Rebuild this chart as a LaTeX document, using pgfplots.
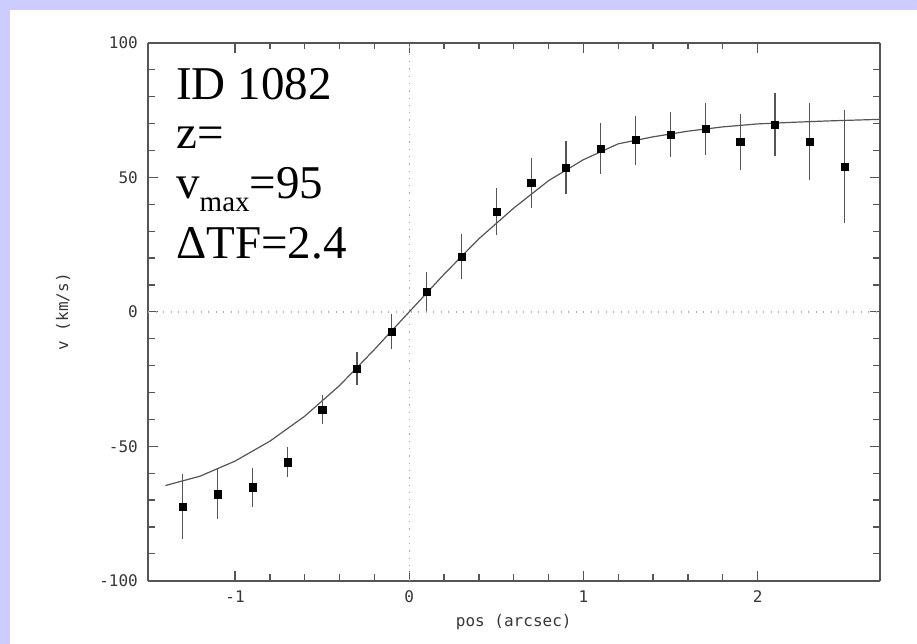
\documentclass[border=0pt]{standalone}
\usepackage{fontspec}
\setmainfont{Liberation Serif}
\newfontfamily\tickfont{DejaVu Sans Mono}
\usepackage{pgfplots}
\pgfplotsset{compat=1.18}
\definecolor{lav}{RGB}{204,204,255}
\definecolor{axgray}{RGB}{85,85,85}
\definecolor{labgray}{RGB}{55,55,55}
\definecolor{dotgray}{RGB}{170,170,170}

\pgfplotstableread{
x y
-1.4 -64.6
-1.2 -61.1
-1.0 -55.5
-0.8 -48.1
-0.6 -38.8
-0.4 -27.4
-0.2 -14.0
0 0
0.2 14.0
0.4 27.2
0.6 38.6
0.8 48.8
1.0 56.6
1.2 62.5
1.4 65.1
1.6 67.2
1.8 68.8
2.0 69.9
2.2 70.5
2.4 71.0
2.6 71.4
2.7 71.6
}\curvedata

\pgfplotstableread{
x y e
-1.3 -72.4 12.1
-1.1 -67.8 9.2
-0.9 -65.2 7.2
-0.7 -55.9 5.7
-0.5 -36.3 5.4
-0.3 -21.1 6.0
-0.1 -7.3 6.4
0.1 7.6 7.4
0.3 20.6 8.2
0.5 37.3 8.7
0.7 47.9 9.4
0.9 53.6 9.8
1.1 60.7 9.5
1.3 63.9 9.1
1.5 65.9 8.3
1.7 68.0 9.7
1.9 63.2 10.3
2.1 69.6 11.8
2.3 63.4 14.3
2.5 53.9 21.0
}\pointdata

\begin{document}
\begin{tikzpicture}[x=1pt,y=1pt]
\useasboundingbox (0,0) rectangle (917,643);
\fill[white] (-2,-2) rectangle (919,645);
\fill[lav] (-2,633) rectangle (919,645);
\fill[lav] (-2,-2) rectangle (10,645);
\begin{axis}[
  at={(148pt,62.3pt)}, anchor=south west,
  scale only axis, width=731.5pt, height=537.7pt,
  xmin=-1.5, xmax=2.7, ymin=-100, ymax=100,
  xtick={-1,0,1,2}, xticklabels={-1,0,1,2},
  ytick={-100,-50,0,50,100}, yticklabels={-100,-50,0,50,100},
  minor x tick num=4, minor y tick num=4,
  tick align=inside, tick pos=both,
  major tick length=10pt, minor tick length=6.5pt,
  separate axis lines,
  axis line style={axgray, line width=2pt},
  every tick/.style={axgray, line width=1.2pt},
  tick label style={font=\tickfont\fontsize{16}{16}\selectfont, text=labgray},
  yticklabel style={inner sep=0pt, xshift=-10pt},
  xticklabel style={inner sep=0pt, yshift=-10pt},
  xlabel={pos (arcsec)}, ylabel={v (km/s)},
  every axis x label/.style={at={(axis description cs:0.5,-0.0762)}, anchor=center, font=\tickfont\fontsize{16}{16}\selectfont, text=labgray},
  every axis y label/.style={at={(axis description cs:-0.1162,0.5)}, rotate=90, anchor=center, font=\tickfont\fontsize{16}{16}\selectfont, text=labgray},
  clip=false,
]
\draw[dotgray, line width=1.3pt, dash pattern=on 1.3pt off 6.2pt] (axis cs:-1.5,0) -- (axis cs:2.7,0);
\draw[dotgray, line width=1.3pt, dash pattern=on 1.3pt off 6pt] (axis cs:0,-100) -- (axis cs:0,100);
\addplot[axgray, line width=1.2pt, mark=none] table[x=x,y=y] {\curvedata};
\addplot[only marks, mark=square*, mark size=3.6pt, mark options={black, fill=black},
  error bars/.cd, y dir=both, y explicit, error mark=none,
  error bar style={axgray, line width=1.2pt}]
  table[x=x, y=y, y error=e] {\pointdata};
\end{axis}
\begin{scope}[every node/.style={inner sep=0pt, anchor=base west}]
\node at (176,543.7) {\fontsize{47}{47}\selectfont ID 1082};
\node at (176,494.7) {\fontsize{47}{47}\selectfont z=};
\node at (176,444) {\fontsize{47}{47}\selectfont v\raisebox{-13pt}{\fontsize{29}{29}\selectfont max}=95};
\node at (176,384.3) {\fontsize{47}{47}\selectfont ΔTF=2.4};
\end{scope}
\end{tikzpicture}
\end{document}
